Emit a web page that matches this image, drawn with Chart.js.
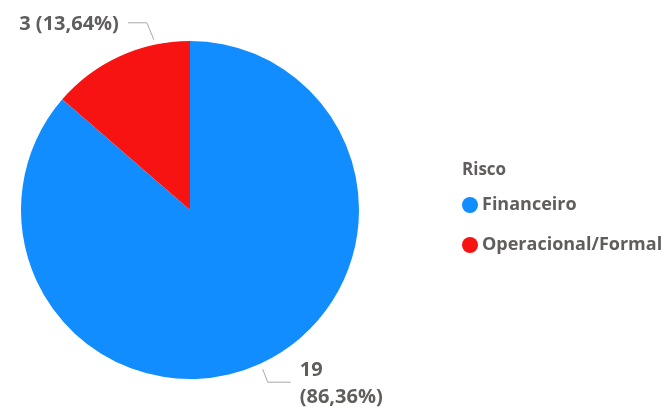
<!DOCTYPE html>
<html>
<head>
<meta charset="utf-8">
<script src="https://cdn.jsdelivr.net/npm/chart.js@4"></script>
<style>
    html, body { margin: 0; padding: 0; background: #fff; }
    #wrap { position: relative; width: 666px; height: 410px; }
</style>
</head>
<body>
<div id="wrap"><canvas id="risk-chart"></canvas></div>
<script>
// Dados do gráfico
const categories = ['Financeiro', 'Operacional/Formal'];
const values = [19, 3];
const colors = ['#118DFF', '#F81313'];
const legendTitle = 'Risco';

const FONT = '"Open Sans", "Noto Sans", sans-serif';
const TEXT_COLOR = '#605E5C';
const LINE_COLOR = '#A8A8A8';

// Posição dos rótulos de dados (frac = ponto ao longo do arco)
const labelLayout = [
    { frac: 0.5, r: 175, elbow: [5, 13], end: [28, 13], text: [37, 0], twoLines: true },
    { frac: 0.756, r: 174, elbow: [-7, -17], end: [-26, -17], text: [-35, 0], twoLines: false }
];

function formatPct(v, total) {
    return (v / total * 100).toFixed(2).replace('.', ',') + '%';
}

// Rótulos com linhas guia
const dataLabels = {
    id: 'dataLabels',
    afterDatasetsDraw(chart) {
        const ctx = chart.ctx;
        const meta = chart.getDatasetMeta(0);
        const data = chart.data.datasets[0].data;
        const total = data.reduce((a, b) => a + b, 0);
        ctx.save();
        meta.data.forEach((arc, i) => {
            const lay = labelLayout[i];
            const ang = arc.startAngle + (arc.endAngle - arc.startAngle) * lay.frac;
            const x0 = arc.x + Math.cos(ang) * lay.r;
            const y0 = arc.y + Math.sin(ang) * lay.r;
            const x1 = x0 + lay.elbow[0], y1 = y0 + lay.elbow[1];
            const x2 = x0 + lay.end[0], y2 = y0 + lay.end[1];
            ctx.strokeStyle = LINE_COLOR;
            ctx.lineWidth = 1;
            ctx.beginPath();
            ctx.moveTo(x0, y0);
            ctx.lineTo(x1, y1);
            ctx.lineTo(x2, y2);
            ctx.stroke();

            ctx.fillStyle = TEXT_COLOR;
            ctx.font = 'bold 20px ' + FONT;
            ctx.textBaseline = 'middle';
            const tx = x0 + lay.text[0];
            const ty = y2 + lay.text[1];
            const pct = '(' + formatPct(data[i], total) + ')';
            if (lay.twoLines) {
                ctx.textAlign = 'left';
                ctx.fillText(String(data[i]), tx, ty - 12);
                ctx.fillText(pct, tx, ty + 15);
            } else {
                ctx.textAlign = 'right';
                ctx.fillText(data[i] + ' ' + pct, tx, ty + 2);
            }
        });
        ctx.restore();
    }
};

// Legenda à direita
const sideLegend = {
    id: 'sideLegend',
    afterDraw(chart) {
        const ctx = chart.ctx;
        const ds = chart.data.datasets[0];
        const x = 462;
        ctx.save();
        ctx.fillStyle = TEXT_COLOR;
        ctx.textAlign = 'left';
        ctx.textBaseline = 'middle';
        ctx.font = 'bold 17px ' + FONT;
        ctx.fillText(legendTitle, x, 170);
        ctx.font = 'bold 18px ' + FONT;
        chart.data.labels.forEach((lbl, i) => {
            const y = 205 + i * 40;
            ctx.fillStyle = ds.backgroundColor[i];
            ctx.beginPath();
            ctx.arc(x + 8, y, 8, 0, Math.PI * 2);
            ctx.fill();
            ctx.fillStyle = TEXT_COLOR;
            ctx.fillText(lbl, x + 20, y);
        });
        ctx.restore();
    }
};

new Chart(document.getElementById('risk-chart'), {
    type: 'pie',
    data: {
        labels: categories,
        datasets: [{
            data: values,
            backgroundColor: colors,
            borderWidth: 0
        }]
    },
    options: {
        responsive: true,
        maintainAspectRatio: false,
        animation: false,
        layout: { padding: { left: 21, right: 307, top: 41, bottom: 31 } },
        plugins: {
            legend: { display: false },
            tooltip: { enabled: false }
        }
    },
    plugins: [dataLabels, sideLegend]
});
</script>
</body>
</html>
